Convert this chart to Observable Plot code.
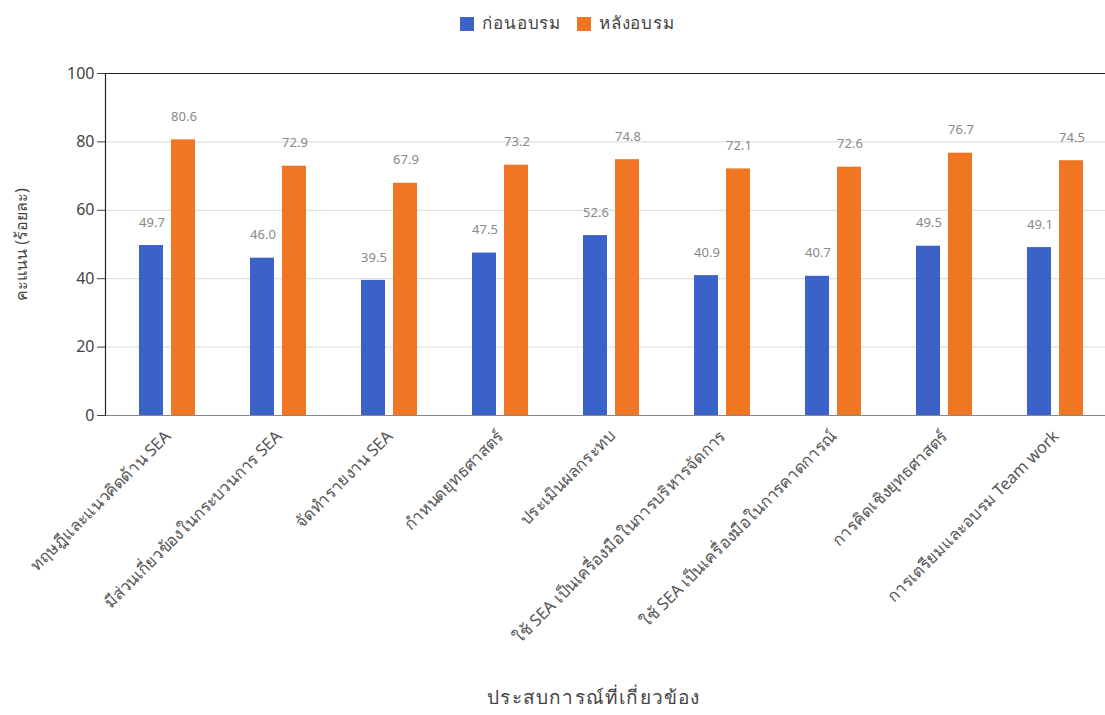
<!DOCTYPE html>
<html>
<head>
<meta charset="utf-8">
<script src="https://cdn.jsdelivr.net/npm/d3@7"></script>
<script src="https://cdn.jsdelivr.net/npm/@observablehq/plot@0.6"></script>
<style>
  html, body { margin: 0; padding: 0; background: #fff; }
  body { width: 1105px; height: 715px; overflow: hidden; font-family: "Noto Sans", "DejaVu Sans", sans-serif; }
  #legend { height: 45px; display: flex; justify-content: center; align-items: center; gap: 16px; font-size: 17px; color: #444; padding-left: 30px; box-sizing: border-box; letter-spacing: 0.8px; }
  #legend span.sw { display: inline-block; width: 14px; height: 14px; margin-right: 8px; vertical-align: -2px; }
  #caption { text-align: center; font-size: 19px; color: #444; padding-left: 83px; margin-top: 2px; letter-spacing: 1.2px; }
</style>
</head>
<body>
<div id="legend"></div>
<div id="chart"></div>
<div id="caption"></div>
<script>
const categories = [
  "ทฤษฎีและแนวคิดด้าน SEA",
  "มีส่วนเกี่ยวข้องในกระบวนการ SEA",
  "จัดทำรายงาน SEA",
  "กำหนดยุทธศาสตร์",
  "ประเมินผลกระทบ",
  "ใช้ SEA เป็นเครื่องมือในการบริหารจัดการ",
  "ใช้ SEA เป็นเครื่องมือในการคาดการณ์",
  "การคิดเชิงยุทธศาสตร์",
  "การเตรียมและอบรม Team work"
];
const beforeValues = [49.7, 46.0, 39.5, 47.5, 52.6, 40.9, 40.7, 49.5, 49.1];
const afterValues  = [80.6, 72.9, 67.9, 73.2, 74.8, 72.1, 72.6, 76.7, 74.5];
const seriesNames = ["ก่อนอบรม", "หลังอบรม"];
const seriesColors = ["#3a62c8", "#f07623"];
const yTicks = [0, 20, 40, 60, 80, 100];
const yLabel = "คะแนน (ร้อยละ)";
const xLabel = "ประสบการณ์ที่เกี่ยวข้อง";

const rowsBefore = categories.map((c, i) => ({cat: c, value: beforeValues[i]}));
const rowsAfter = categories.map((c, i) => ({cat: c, value: afterValues[i]}));

// legend
const legend = document.getElementById("legend");
seriesNames.forEach((n, i) => {
  const item = document.createElement("span");
  item.innerHTML = `<span class="sw" style="background:${seriesColors[i]}"></span>${n}`;
  legend.appendChild(item);
});
document.getElementById("caption").textContent = xLabel;

const font = "'Noto Sans', 'DejaVu Sans', sans-serif";
const chart = Plot.plot({
  width: 1105,
  height: 635,
  marginTop: 28,
  marginLeft: 105,
  marginRight: 0,
  marginBottom: 265,
  style: {fontFamily: font, fontSize: "16px", color: "#444", background: "#fff"},
  x: {domain: categories, range: [109, 1113], padding: 0},
  y: {domain: [0, 100]},
  marks: [
    Plot.gridY([20, 40, 60, 80], {stroke: "#d9d9d9", strokeOpacity: 1}),
    Plot.ruleY([0], {stroke: "#888"}),
    Plot.barY(rowsBefore, {x: "cat", y: "value", fill: seriesColors[0], insetLeft: 27, insetRight: 60}),
    Plot.barY(rowsAfter, {x: "cat", y: "value", fill: seriesColors[1], insetLeft: 59, insetRight: 28}),
    Plot.text(rowsBefore, {x: "cat", y: "value", text: d => d.value.toFixed(1), dx: -16, dy: -23, fill: "#888", fontSize: 13}),
    Plot.text(rowsAfter, {x: "cat", y: "value", text: d => d.value.toFixed(1), dx: 16, dy: -23, fill: "#888", fontSize: 13}),
    Plot.ruleY([100], {stroke: "#222", strokeWidth: 1.2}),
    Plot.frame({anchor: "left", stroke: "#222", strokeWidth: 1.2}),
    Plot.axisY({ticks: yTicks, tickSize: 8, tickPadding: 3, label: yLabel, labelAnchor: "center", labelOffset: 90, labelArrow: "none", fontWeight: "normal"}),
    Plot.axisX({tickRotate: -45, tickSize: 0, tickPadding: 18, label: null, fontSize: 16.5, fill: "#555", style: {letterSpacing: "0.6px"}})
  ]
});
chart.querySelectorAll("[aria-label='y-axis label'] text, [aria-label='y-axis label']").forEach(e => e.setAttribute("font-weight", "normal"));
document.getElementById("chart").appendChild(chart);
</script>
</body>
</html>
